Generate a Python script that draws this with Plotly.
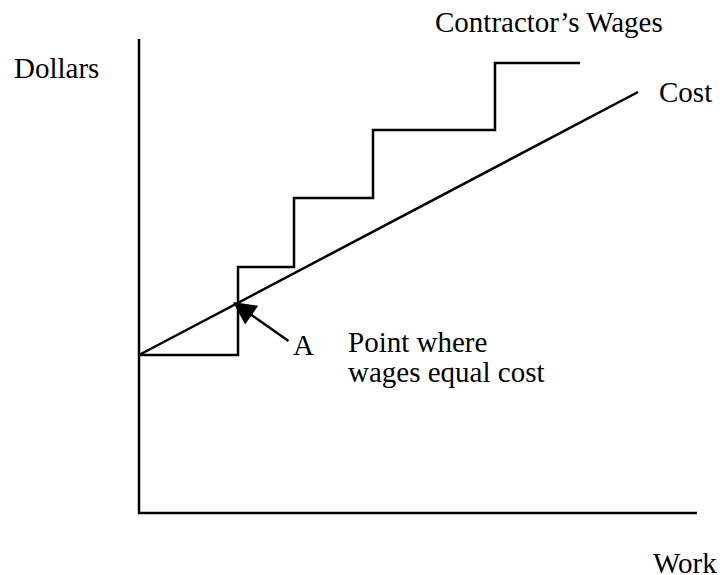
import plotly.graph_objects as go

# Work (horizontal) and Dollars (vertical), arbitrary units
step_work = [0, 99, 155, 234, 356, 441]
step_wages = [158, 246, 315, 383, 450, 450]
cost_work = [0, 499]
cost_dollars = [158, 421]
axis_x = [0, 0, 558]
axis_y = [474, 0, 0]
point_a = (94, 211)
point_a_tail = (151, 171)

FONT = dict(family="Liberation Serif, Times New Roman, serif", size=29, color="black")

fig = go.Figure()
fig.add_trace(go.Scatter(x=axis_x, y=axis_y, mode="lines",
                         line=dict(color="black", width=2.5), hoverinfo="skip"))
fig.add_trace(go.Scatter(x=step_work, y=step_wages, mode="lines", line_shape="hv",
                         line=dict(color="black", width=2.5), hoverinfo="skip"))
fig.add_trace(go.Scatter(x=cost_work, y=cost_dollars, mode="lines",
                         line=dict(color="black", width=2.5), hoverinfo="skip"))

fig.add_annotation(x=point_a[0], y=point_a[1], ax=point_a_tail[0], ay=point_a_tail[1],
                   xref="x", yref="y", axref="x", ayref="y", text="",
                   showarrow=True, arrowhead=2, arrowsize=1.9, arrowwidth=2.4,
                   arrowcolor="black")

labels = [
    ("Dollars", -127, 445),
    ("Contractor\u2019s Wages", 294, 491),
    ("Cost", 518, 421),
    ("Work", 512, -50),
    ("A", 152, 168),
    ("Point where", 207, 171),
    ("wages equal cost", 207, 141),
]
for txt, x, y in labels:
    fig.add_annotation(x=x, y=y, xref="x", yref="y", text=txt, showarrow=False,
                       xanchor="left", yanchor="middle", font=FONT)

fig.update_layout(
    width=720, height=567,
    margin=dict(l=0, r=0, t=0, b=0),
    paper_bgcolor="white", plot_bgcolor="white",
    showlegend=False,
    xaxis=dict(range=[-131, 589], visible=False, fixedrange=True),
    yaxis=dict(range=[-62, 505], visible=False, fixedrange=True),
)
fig.write_html("out.html")
